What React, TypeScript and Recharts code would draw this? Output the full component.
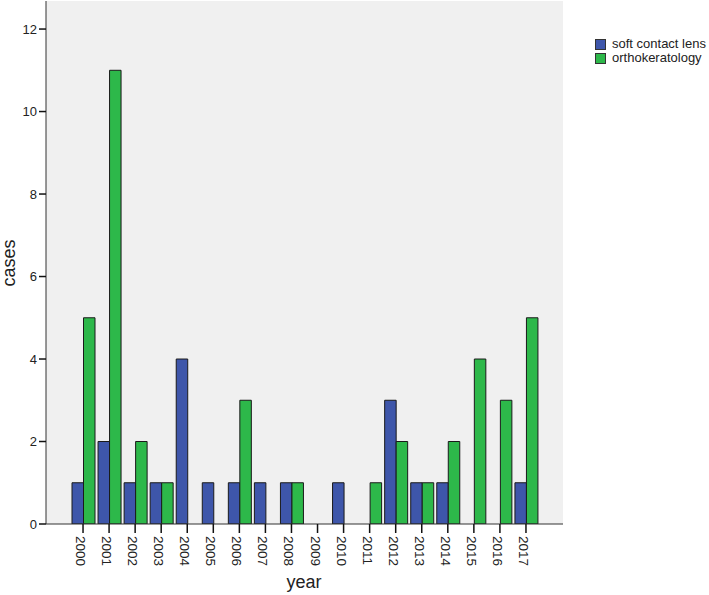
import React from 'react';
import { BarChart, Bar, XAxis, YAxis, CartesianGrid } from 'recharts';

const years = ['2000','2001','2002','2003','2004','2005','2006','2007','2008','2009','2010','2011','2012','2013','2014','2015','2016','2017'];
const softContactLens = [1, 2, 1, 1, 4, 1, 1, 1, 1, 0, 1, 0, 3, 1, 1, 0, 0, 1];
const orthokeratology = [5, 11, 2, 1, 0, 0, 3, 0, 1, 0, 0, 1, 2, 1, 2, 4, 3, 5];
const yTicks = [0, 2, 4, 6, 8, 10, 12];
const seriesNames = ['soft contact lens', 'orthokeratology'];

const data = years.map((y, i) => ({ year: y, soft: softContactLens[i], ortho: orthokeratology[i] }));

const FONT = 'Liberation Sans, Arial, sans-serif';
const BLUE = '#3E56AA';
const GREEN = '#2DB84A';
const EDGE = '#333333';
const seriesColors = [BLUE, GREEN];

const XTick = (props: any) => {
  const { x, y, payload } = props;
  return (
    <text
      x={x}
      y={y + 1}
      transform={`rotate(90 ${x} ${y + 1})`}
      textAnchor="start"
      dy="0.52em"
      fontSize={13.5}
      fontFamily={FONT}
      fill="#222"
    >
      {payload.value}
    </text>
  );
};

export default function App() {
  return (
    <div style={{ position: 'absolute', left: 0, top: 0, width: 709, height: 595, background: '#fff' }}>
      <BarChart
        width={709}
        height={595}
        data={data}
        margin={{ top: 1, right: 146, bottom: 0, left: 0 }}
        barGap={0}
        barSize={11.5}
      >
        <CartesianGrid horizontal={false} vertical={false} fill="#f0f0f0" />
        <XAxis
          dataKey="year"
          height={71}
          padding={{ left: 24, right: 24 }}
          tick={<XTick />}
          tickLine={{ stroke: '#111', strokeWidth: 1.5 }}
          tickSize={9}
          axisLine={{ stroke: EDGE }}
          interval={0}
          label={() => (
            <text x={304} y={588} textAnchor="middle" fontSize={18} fontFamily={FONT} fill="#222">year</text>
          )}
        />
        <XAxis xAxisId="top" orientation="top" dataKey="year" height={0} tick={false} tickLine={false} axisLine={{ stroke: EDGE }} />
        <YAxis
          width={46}
          domain={[0, 12.68]}
          ticks={yTicks}
          allowDataOverflow
          tickSize={7}
          tickMargin={2}
          tick={{ fontSize: 13, fontFamily: FONT, fill: '#222' }}
          tickLine={{ stroke: '#111', strokeWidth: 1.5 }}
          axisLine={{ stroke: EDGE }}
          label={() => (
            <text x={15} y={263} transform="rotate(-90 15 263)" textAnchor="middle" fontSize={18} fontFamily={FONT} fill="#222">cases</text>
          )}
        />
        <YAxis yAxisId="right" orientation="right" width={0} tick={false} tickLine={false} axisLine={{ stroke: EDGE }} />
        <Bar dataKey="soft" name={seriesNames[0]} fill={BLUE} stroke="#1a1a1a" strokeWidth={1} isAnimationActive={false} />
        <Bar dataKey="ortho" name={seriesNames[1]} fill={GREEN} stroke="#1a1a1a" strokeWidth={1} isAnimationActive={false} />
      </BarChart>
      <div style={{ position: 'absolute', left: 595, top: 37, fontFamily: FONT, fontSize: 13, color: '#222', lineHeight: '14px' }}>
        {seriesNames.map((n, i) => (
          <div key={n} style={{ display: 'flex', alignItems: 'center', height: 14, whiteSpace: 'nowrap' }}>
            <span style={{ display: 'inline-block', width: 9, height: 9, background: seriesColors[i], border: '1px solid #333', marginRight: 6 }} />
            <span>{n}</span>
          </div>
        ))}
      </div>
    </div>
  );
}
